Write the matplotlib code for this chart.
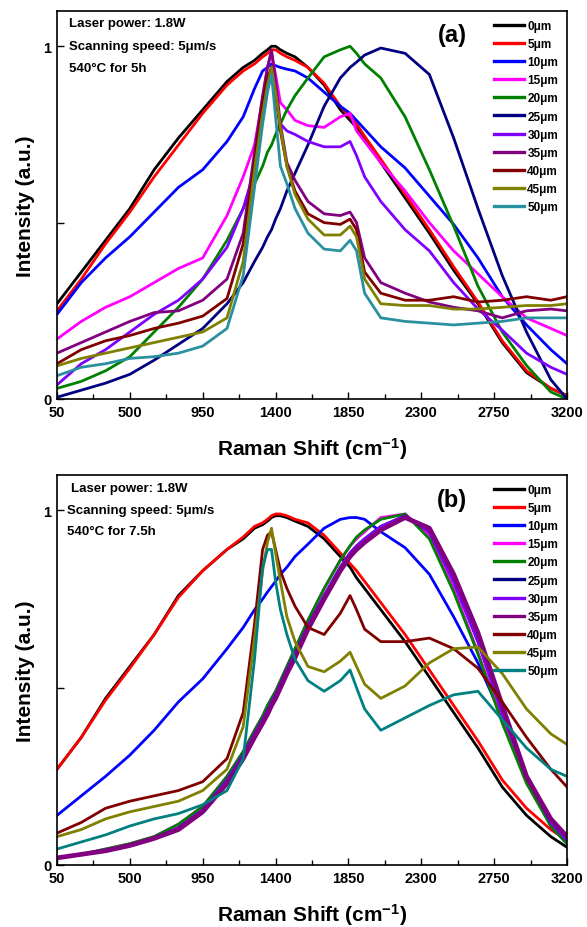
import matplotlib
matplotlib.use('Agg')
import matplotlib.pyplot as plt

plt.rcParams['font.family'] = ['Liberation Sans', 'DejaVu Sans']
plt.rcParams['font.weight'] = 'bold'
plt.rcParams['axes.labelweight'] = 'bold'
plt.rcParams['mathtext.fontset'] = 'custom'
plt.rcParams['mathtext.rm'] = 'Liberation Sans:bold'
plt.rcParams['mathtext.bf'] = 'Liberation Sans:bold'
plt.rcParams['mathtext.default'] = 'bf'

shift = [50, 200, 350, 500, 650, 800, 950, 1100, 1200, 1270, 1320, 1350, 1375, 1400,
         1430, 1470, 1520, 1600, 1700, 1800, 1860, 1900, 1950, 2050, 2200, 2350,
         2500, 2650, 2800, 2950, 3100, 3200]

depths = ['0μm', '5μm', '10μm', '15μm', '20μm', '25μm', '30μm', '35μm', '40μm', '45μm', '50μm']

# panel (a): 540C for 5h
a_0 = [0.27, 0.36, 0.45, 0.54, 0.65, 0.74, 0.82, 0.90, 0.94, 0.96, 0.98, 0.99, 1.0, 1.0,
       0.99, 0.98, 0.97, 0.94, 0.89, 0.82, 0.79, 0.77, 0.74, 0.67, 0.57, 0.47,
       0.365, 0.27, 0.16, 0.075, 0.03, 0.01]
a_5 = [0.25, 0.34, 0.44, 0.53, 0.63, 0.72, 0.81, 0.89, 0.93, 0.95, 0.97, 0.98, 0.99, 0.99,
       0.98, 0.97, 0.96, 0.94, 0.895, 0.83, 0.80, 0.78, 0.745, 0.68, 0.58, 0.48,
       0.375, 0.275, 0.165, 0.08, 0.03, 0.01]
a_10 = [0.24, 0.33, 0.40, 0.46, 0.53, 0.60, 0.65, 0.73, 0.80, 0.88, 0.93, 0.94, 0.95, 0.945,
        0.94, 0.935, 0.93, 0.91, 0.87, 0.83, 0.81, 0.79, 0.765, 0.715, 0.655, 0.575,
        0.495, 0.40, 0.29, 0.21, 0.14, 0.10]
a_15 = [0.17, 0.22, 0.26, 0.29, 0.33, 0.37, 0.40, 0.52, 0.63, 0.72, 0.85, 0.94, 0.98, 0.92,
        0.84, 0.82, 0.79, 0.775, 0.77, 0.80, 0.81, 0.76, 0.73, 0.67, 0.59, 0.50,
        0.42, 0.355, 0.29, 0.23, 0.20, 0.18]
a_20 = [0.03, 0.05, 0.08, 0.12, 0.19, 0.26, 0.34, 0.45, 0.54, 0.61, 0.66, 0.70, 0.72, 0.75,
        0.78, 0.82, 0.86, 0.91, 0.97, 0.99, 1.0, 0.98, 0.95, 0.91, 0.80, 0.65,
        0.49, 0.32, 0.19, 0.095, 0.02, 0.0]
a_25 = [0.005, 0.025, 0.045, 0.07, 0.11, 0.155, 0.20, 0.27, 0.33, 0.39, 0.43, 0.46, 0.48, 0.51,
        0.54, 0.59, 0.64, 0.72, 0.83, 0.91, 0.94, 0.955, 0.975, 0.995, 0.98, 0.92,
        0.74, 0.54, 0.35, 0.19, 0.055, 0.0]
a_30 = [0.04, 0.10, 0.14, 0.19, 0.24, 0.28, 0.34, 0.43, 0.54, 0.65, 0.79, 0.88, 0.94, 0.86,
        0.78, 0.76, 0.75, 0.73, 0.715, 0.715, 0.73, 0.69, 0.63, 0.56, 0.48, 0.42,
        0.33, 0.255, 0.195, 0.13, 0.09, 0.07]
a_35 = [0.13, 0.16, 0.19, 0.22, 0.245, 0.25, 0.28, 0.34, 0.47, 0.70, 0.86, 0.94, 0.99, 0.90,
        0.78, 0.67, 0.62, 0.56, 0.525, 0.52, 0.53, 0.50, 0.40, 0.33, 0.30, 0.275,
        0.26, 0.25, 0.23, 0.25, 0.255, 0.25]
a_40 = [0.10, 0.14, 0.165, 0.18, 0.20, 0.215, 0.235, 0.285, 0.44, 0.67, 0.84, 0.91, 0.94, 0.86,
        0.76, 0.66, 0.59, 0.525, 0.50, 0.495, 0.51, 0.48, 0.36, 0.30, 0.28, 0.28,
        0.29, 0.275, 0.28, 0.29, 0.28, 0.29]
a_45 = [0.094, 0.115, 0.13, 0.145, 0.16, 0.175, 0.19, 0.23, 0.39, 0.65, 0.81, 0.89, 0.94, 0.87,
        0.77, 0.66, 0.58, 0.51, 0.465, 0.465, 0.49, 0.46, 0.34, 0.27, 0.265, 0.265,
        0.255, 0.255, 0.26, 0.265, 0.265, 0.27]
a_50 = [0.066, 0.09, 0.10, 0.115, 0.12, 0.13, 0.15, 0.20, 0.35, 0.60, 0.78, 0.87, 0.92, 0.80,
        0.66, 0.61, 0.54, 0.47, 0.425, 0.42, 0.45, 0.42, 0.30, 0.23, 0.22, 0.215,
        0.21, 0.215, 0.22, 0.23, 0.23, 0.23]

# panel (b): 540C for 7.5h
b_0 = [0.27, 0.36, 0.47, 0.56, 0.65, 0.76, 0.83, 0.89, 0.92, 0.95, 0.96, 0.97, 0.98, 0.985,
       0.985, 0.98, 0.97, 0.955, 0.92, 0.87, 0.84, 0.81, 0.78, 0.72, 0.63, 0.53,
       0.43, 0.33, 0.22, 0.14, 0.08, 0.05]
b_5 = [0.27, 0.36, 0.465, 0.555, 0.65, 0.755, 0.83, 0.89, 0.925, 0.955, 0.965, 0.975, 0.985, 0.99,
       0.99, 0.985, 0.975, 0.965, 0.93, 0.88, 0.85, 0.83, 0.80, 0.74, 0.65, 0.55,
       0.45, 0.35, 0.24, 0.16, 0.10, 0.07]
b_10 = [0.14, 0.195, 0.25, 0.31, 0.38, 0.46, 0.525, 0.61, 0.67, 0.72, 0.75, 0.77, 0.785, 0.80,
        0.82, 0.84, 0.87, 0.905, 0.95, 0.975, 0.98, 0.98, 0.975, 0.94, 0.895, 0.82,
        0.70, 0.57, 0.415, 0.245, 0.11, 0.06]
b_15 = [0.02, 0.03, 0.045, 0.06, 0.08, 0.115, 0.165, 0.25, 0.32, 0.38, 0.42, 0.45, 0.47, 0.49,
        0.52, 0.56, 0.61, 0.69, 0.78, 0.86, 0.90, 0.92, 0.94, 0.98, 0.99, 0.93,
        0.78, 0.60, 0.41, 0.24, 0.12, 0.07]
b_20 = [0.02, 0.03, 0.045, 0.06, 0.08, 0.115, 0.165, 0.25, 0.32, 0.38, 0.42, 0.45, 0.47, 0.49,
        0.52, 0.56, 0.61, 0.69, 0.78, 0.86, 0.90, 0.925, 0.945, 0.975, 0.99, 0.92,
        0.77, 0.595, 0.40, 0.23, 0.11, 0.06]
b_25 = [0.02, 0.03, 0.04, 0.055, 0.075, 0.105, 0.155, 0.24, 0.31, 0.37, 0.41, 0.435, 0.46, 0.48,
        0.51, 0.55, 0.595, 0.675, 0.76, 0.84, 0.88, 0.90, 0.92, 0.955, 0.985, 0.94,
        0.80, 0.63, 0.43, 0.25, 0.12, 0.07]
b_30 = [0.02, 0.03, 0.04, 0.055, 0.075, 0.105, 0.155, 0.24, 0.31, 0.37, 0.41, 0.435, 0.46, 0.48,
        0.51, 0.55, 0.595, 0.675, 0.76, 0.84, 0.88, 0.90, 0.92, 0.955, 0.985, 0.94,
        0.80, 0.63, 0.43, 0.25, 0.12, 0.07]
b_35 = [0.02, 0.03, 0.04, 0.055, 0.075, 0.10, 0.15, 0.23, 0.30, 0.36, 0.40, 0.425, 0.45, 0.47,
        0.50, 0.54, 0.585, 0.665, 0.75, 0.83, 0.87, 0.89, 0.91, 0.945, 0.98, 0.95,
        0.82, 0.655, 0.45, 0.25, 0.13, 0.08]
b_40 = [0.09, 0.12, 0.16, 0.18, 0.195, 0.21, 0.235, 0.30, 0.43, 0.68, 0.89, 0.93, 0.94, 0.89,
        0.83, 0.78, 0.73, 0.67, 0.65, 0.71, 0.76, 0.72, 0.665, 0.63, 0.63, 0.64,
        0.61, 0.555, 0.46, 0.36, 0.27, 0.22]
b_45 = [0.08, 0.10, 0.13, 0.15, 0.165, 0.18, 0.21, 0.27, 0.39, 0.64, 0.83, 0.91, 0.95, 0.88,
        0.80, 0.70, 0.63, 0.56, 0.545, 0.575, 0.60, 0.56, 0.51, 0.47, 0.505, 0.57,
        0.61, 0.615, 0.54, 0.44, 0.37, 0.34]
b_50 = [0.045, 0.065, 0.085, 0.11, 0.13, 0.145, 0.17, 0.21, 0.30, 0.58, 0.84, 0.89, 0.89, 0.80,
        0.72, 0.65, 0.58, 0.52, 0.49, 0.52, 0.55, 0.50, 0.44, 0.38, 0.415, 0.45,
        0.48, 0.49, 0.41, 0.33, 0.27, 0.25]

major_ticks = [50, 500, 950, 1400, 1850, 2300, 2750, 3200]
minor_ticks = [275, 725, 1175, 1625, 2075, 2525, 2975]

colors_a = ['black', 'red', 'blue', 'magenta', '#008000', '#000080', '#8000ff',
            '#800080', '#800000', '#808000', '#2a8f9f']
colors_b = ['black', 'red', 'blue', 'magenta', '#008000', '#000080', '#8000ff',
            '#800080', '#800000', '#808000', '#008080']


def draw_panel(ax, series, colors, tag, notes, note_y, note_x, thick=None):
    for i, ys in enumerate(series):
        lw = 2.0
        if thick is not None and i == thick:
            lw = 3.4
        ax.plot(shift, ys, color=colors[i], lw=lw, label=depths[i])

    ax.set_xlim(50, 3200)
    ax.set_ylim(0, 1.1)
    ax.set_xticks(major_ticks)
    ax.set_xticks(minor_ticks, minor=True)
    ax.set_yticks([0, 0.5, 1])
    ax.set_yticklabels(['0', '', '1'])
    ax.tick_params(which='major', direction='in', length=5, width=1, labelsize=10.5, pad=4)
    ax.tick_params(which='minor', direction='in', length=3.5, width=1)
    for lab in ax.get_xticklabels() + ax.get_yticklabels():
        lab.set_fontweight('bold')
    for sp in ax.spines.values():
        sp.set_linewidth(1.2)

    ax.set_xlabel('Raman Shift (cm$^{-1}$)', fontsize=15, labelpad=12)
    ax.set_ylabel('Intensity (a.u.)', fontsize=15, labelpad=6)

    leg = ax.legend(loc='upper right', frameon=False, fontsize=8.5, handlelength=2.6,
                    labelspacing=0.52, handletextpad=0.25, borderaxespad=0.35)
    for h in leg.get_lines():
        h.set_linewidth(2.4)
    for t in leg.get_texts():
        t.set_fontweight('bold')

    ax.text(0.775, note_y[0] - 0.03, tag, transform=ax.transAxes, fontsize=17,
            fontweight='bold', ha='center', va='center')
    for k, s in enumerate(notes):
        ax.text(note_x[k], note_y[k], s, transform=ax.transAxes, fontsize=9.5,
                fontweight='bold', ha='left', va='center')


fig = plt.figure(figsize=(5.87, 9.28), dpi=100)
ax1 = fig.add_axes([57 / 587, 1 - 400 / 928, 510 / 587, 388 / 928])
ax2 = fig.add_axes([57 / 587, 1 - 866 / 928, 510 / 587, 390 / 928])

draw_panel(ax1, [a_0, a_5, a_10, a_15, a_20, a_25, a_30, a_35, a_40, a_45, a_50], colors_a, '(a)',
           ['Laser power: 1.8W', 'Scanning speed: 5μm/s', '540°C for 5h'],
           [0.969, 0.911, 0.852], [0.024, 0.024, 0.024])
draw_panel(ax2, [b_0, b_5, b_10, b_15, b_20, b_25, b_30, b_35, b_40, b_45, b_50], colors_b, '(b)',
           ['Laser power: 1.8W', 'Scanning speed: 5μm/s', '540°C for 7.5h'],
           [0.966, 0.911, 0.856], [0.027, 0.019, 0.019], thick=7)

fig.savefig('out.png', dpi=100)
